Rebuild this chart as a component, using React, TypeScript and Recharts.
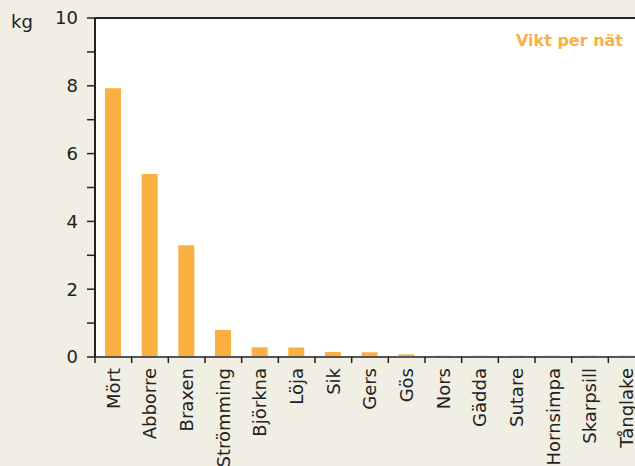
import { BarChart, Bar, XAxis, YAxis, CartesianGrid, ReferenceLine } from 'recharts';

const species = [
  'Mört', 'Abborre', 'Braxen', 'Strömming', 'Björkna', 'Löja', 'Sik', 'Gers',
  'Gös', 'Nors', 'Gädda', 'Sutare', 'Hornsimpa', 'Skarpsill', 'Tånglake',
];
const weightPerNet = [7.93, 5.4, 3.3, 0.8, 0.29, 0.28, 0.15, 0.14, 0.08, 0.04, 0.04, 0.04, 0.04, 0.04, 0.04];
const yTicks = [0, 1, 2, 3, 4, 5, 6, 7, 8, 9, 10];

const seriesName = 'Vikt per nät';
const unit = 'kg';

const data = species.map((name, i) => ({ name, value: weightPerNet[i] }));

const bg = '#F1EEE3';
const barColor = '#FBB042';
const font = '"DejaVu Sans", sans-serif';
const band = 550 / species.length;

const CategoryTick = (props: any) => {
  const { x, y, payload } = props;
  const bx = x - band / 2;
  return (
    <g>
      <line x1={bx} y1={y} x2={bx} y2={y + 6} stroke="#222" strokeWidth={1.5} />
      <text
        x={x}
        y={y + 11}
        transform={`rotate(-90, ${x}, ${y + 11})`}
        textAnchor="end"
        dy="0.36em"
        fontSize={18}
        fontFamily={font}
        fill="#222"
      >
        {payload.value}
      </text>
    </g>
  );
};

export default function App() {
  return (
    <div style={{ position: 'absolute', left: 0, top: 0, width: 635, height: 466, overflow: 'hidden', background: bg }}>
      <div style={{ position: 'absolute', left: 11, top: 11, fontFamily: font, fontSize: 18, color: '#222' }}>{unit}</div>
      <BarChart width={650} height={466} data={data} margin={{ top: 18, right: 5, left: 0, bottom: 0 }}>
        <CartesianGrid fill="#fff" horizontal={false} vertical={false} />
        <XAxis
          dataKey="name"
          interval={0}
          height={109}
          tickSize={0}
          tickMargin={0}
          tickLine={false}
          axisLine={{ stroke: '#555', strokeWidth: 2 }}
          tick={<CategoryTick />}
        />
        <YAxis
          width={95}
          domain={[0, 10]}
          ticks={yTicks}
          interval={0}
          tickSize={8}
          tickMargin={9}
          tickFormatter={(v: number) => (v % 2 === 0 ? String(v) : '')}
          axisLine={{ stroke: '#222', strokeWidth: 2 }}
          tickLine={{ stroke: '#222', strokeWidth: 1.5 }}
          tick={{ fontSize: 18, fontFamily: font, fill: '#222' }}
        />
        <ReferenceLine y={10} stroke="#222" strokeWidth={2} />
        <Bar dataKey="value" name={seriesName} fill={barColor} barSize={16} isAnimationActive={false} />
      </BarChart>
      <div
        style={{
          position: 'absolute',
          right: 12,
          top: 31,
          fontFamily: font,
          fontWeight: 'bold',
          fontSize: 16,
          color: barColor,
        }}
      >
        {seriesName}
      </div>
    </div>
  );
}
